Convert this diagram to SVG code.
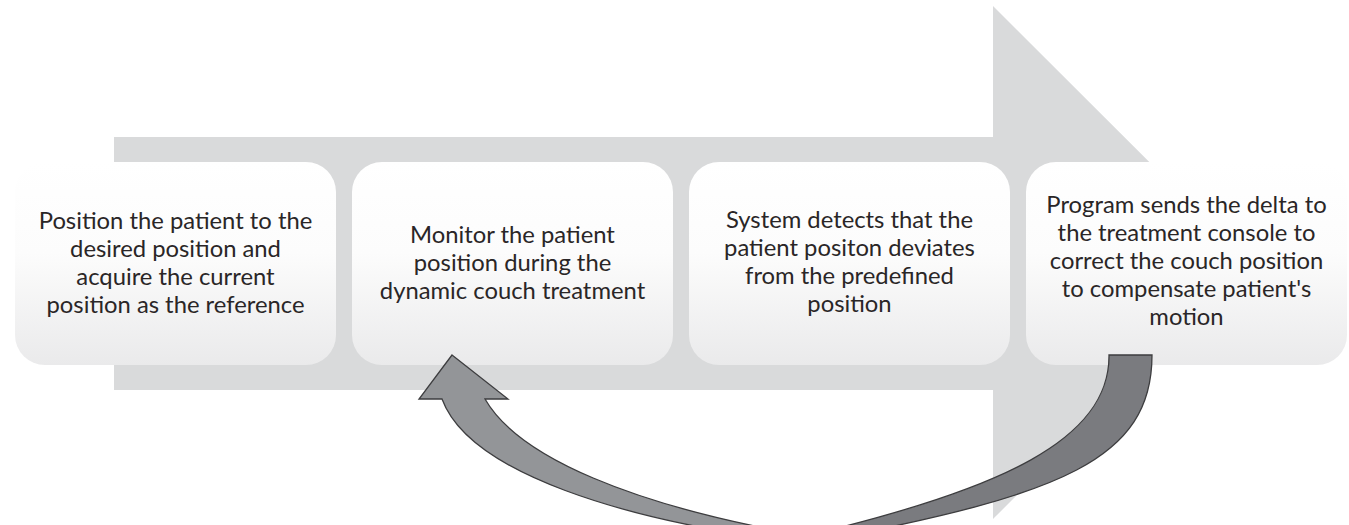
<svg xmlns="http://www.w3.org/2000/svg" width="1349" height="525" viewBox="0 0 1349 525">
  <defs>
    <linearGradient id="boxGrad" x1="0" y1="0" x2="0" y2="1">
      <stop offset="0" stop-color="#ffffff"/>
      <stop offset="0.45" stop-color="#fcfcfc"/>
      <stop offset="1" stop-color="#eaeaeb"/>
    </linearGradient>
  </defs>
  <style>
    .box { fill: url(#boxGrad); }
    .lbl { font-family: Lato, "Liberation Sans", sans-serif; font-size: 23.8px; fill: #2a2627; text-anchor: middle; }
    .front { fill: #939598; stroke: #3d3d3f; stroke-width: 1.3; stroke-linejoin: miter; }
    .back { fill: #7a7b7f; stroke: #3d3d3f; stroke-width: 1.3; }
  </style>
  <rect width="1349" height="525" fill="#ffffff"/>
  <g id="background-arrow">
    <path d="M114,137 L993,137 L993,6 L1250,262.5 L993,519 L993,390 L114,390 Z" fill="#d9dadb"/>
  </g>
  <g id="node1">
    <rect class="box" x="15" y="162" width="321" height="203" rx="30" ry="30"/>
    <text class="lbl" x="175.5" y="229">Position the patient to the</text>
    <text class="lbl" x="175.5" y="257">desired position and</text>
    <text class="lbl" x="175.5" y="285">acquire the current</text>
    <text class="lbl" x="175.5" y="313">position as the reference</text>
  </g>
  <g id="node2">
    <rect class="box" x="352" y="162" width="321" height="203" rx="30" ry="30"/>
    <text class="lbl" x="512.5" y="243">Monitor the patient</text>
    <text class="lbl" x="512.5" y="271">position during the</text>
    <text class="lbl" x="512.5" y="299">dynamic couch treatment</text>
  </g>
  <g id="node3">
    <rect class="box" x="689" y="162" width="321" height="203" rx="30" ry="30"/>
    <text class="lbl" x="849.5" y="228">System detects that the</text>
    <text class="lbl" x="849.5" y="256">patient positon deviates</text>
    <text class="lbl" x="849.5" y="284">from the predefined</text>
    <text class="lbl" x="849.5" y="312">position</text>
  </g>
  <g id="node4">
    <rect class="box" x="1026" y="162" width="321" height="203" rx="30" ry="30"/>
    <text class="lbl" x="1186.5" y="213">Program sends the delta to</text>
    <text class="lbl" x="1186.5" y="241">the treatment console to</text>
    <text class="lbl" x="1186.5" y="269">correct the couch position</text>
    <text class="lbl" x="1186.5" y="297">to compensate patient's</text>
    <text class="lbl" x="1186.5" y="325">motion</text>
  </g>
  <g id="connectors">
    <path class="back" d="M1109,355 L1152,355 C1152,460 1060,495 825,540 L805,536 C1000,490 1110,440 1109,355 Z"/>
    <path class="front" d="M452,355 L508,399 L485,399 C520,460 640,505 785,532 L780,540 C630,520 470,475 442,399 L419,399 Z"/>
  </g>
</svg>
